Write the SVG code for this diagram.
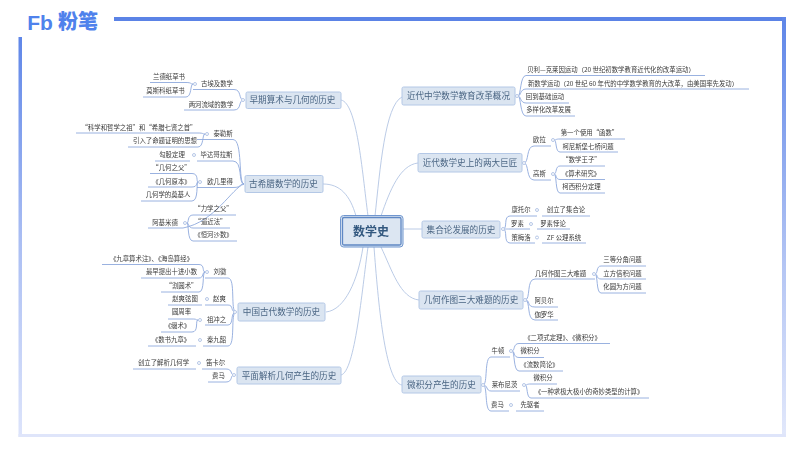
<svg xmlns="http://www.w3.org/2000/svg" width="800" height="450" viewBox="0 0 800 450">
<style>
text{font-family:"Noto Sans CJK SC","Liberation Sans",sans-serif;text-anchor:middle;fill:#3a3a3a;font-size:6.4px}
.m{font-size:8.6px;fill:#4a6583}
.c{font-size:12px;font-weight:700;fill:#33587f}
.box{fill:#dbe5f1;stroke:#b4c8e6;stroke-width:1}
.l{fill:none;stroke:#8fa9dc;stroke-width:.9}
.t{fill:none;stroke:#b3c5e3;stroke-width:.9}
</style>
<defs>
<linearGradient id="gl" x1="0" y1="0" x2="0" y2="1"><stop offset="0" stop-color="#5f86e8"/><stop offset=".5" stop-color="#a9bdf3"/><stop offset="1" stop-color="#dde4fb"/></linearGradient>
<linearGradient id="gr" x1="0" y1="0" x2="0" y2="1"><stop offset="0" stop-color="#5f86e8"/><stop offset=".6" stop-color="#b5c6f4"/><stop offset="1" stop-color="#e2e8fb"/></linearGradient>
<filter id="s" x="-2%" y="-2%" width="104%" height="104%"><feGaussianBlur stdDeviation=".3"/></filter>
</defs>
<rect width="800" height="450" fill="#fff"/>
<g id="frame">
<rect x="114" y="17" width="672" height="4" fill="#5b83e6"/>
<rect x="782" y="17" width="4" height="420" fill="url(#gr)"/>
<rect x="18.500" y="37" width="3.500" height="400" fill="url(#gl)"/>
<rect x="18.500" y="434" width="767.500" height="3" fill="#dfe5fa"/>
</g>
<g id="logo">
<text x="40" y="30" style="font-family:'Liberation Sans',sans-serif;font-size:21px;font-weight:700;fill:#4f82ec">Fb</text>
<text x="78" y="29" style="font-size:20px;font-weight:900;fill:#4f82ec">粉笔</text>
</g>
<g filter="url(#s)">
<g id="connectors">
<path class="t" d="M341 100C357 103 362 170 368 216M323 184C340 184 350 195 356 216M326 312C345 310 358 280 363 247M341 375C355 372 362 290 368 247M402 97C385 105 380 170 375 216M418 163C400 165 390 190 381 216M402 229H422M419 300C400 298 392 270 381 247M402 385C385 383 378 300 374 247"/>
<path class="l" d="M244 100C238 100 242 89.500 234 89.500H193M244 100C238 100 242 110 234 110H184"/>
<path class="l" d="M193 84C190 84 192 82.500 186 82.500H150M193 84C190 84 192 97 186 97H143"/>
<path class="l" d="M244 184C238 184 243 139.500 233 139.500H197M244 184C238 184 243 161 233 161H197M244 184C238 184 243 187.500 233 187.500H197M244 184C232 188 215 222 183 228H148"/>
<path class="l" d="M205 134C202 134 204 133 198 133H76M205 134C202 134 204 147 198 147H128"/>
<path class="l" d="M155 161H190"/>
<path class="l" d="M198 182C196 182 199 173.500 192 173.500H150M198 182C196 182 198 187 192 187H148M198 182C196 182 199 201 192 201H141"/>
<path class="l" d="M187 223C189 223 187 215 193 215H236M187 223C189 223 188 228 193 228H230M187 223C189 223 187 241 193 241H237"/>
<path class="l" d="M236 312C230 312 236 278 228 278H205M236 312C230 312 234 305 228 305H205M236 312C230 312 234 325 228 325H205M236 312C230 312 236 346 228 346H203"/>
<path class="l" d="M205 272C202 272 205 264.500 199 264.500H102M205 272C202 272 204 278 199 278H141M205 272C202 272 205 292 199 292H161"/>
<path class="l" d="M168 305H202"/>
<path class="l" d="M198 320C195 320 198 319 192 319H168M198 320C195 320 199 332 192 332H161"/>
<path class="l" d="M148 346H196"/>
<path class="l" d="M234 375C230 375 233 369 226 369H202M234 375C230 375 233 382 226 382H208"/>
<path class="l" d="M133 369H196"/>
<path class="l" d="M518 96C521 96 520 75.500 526 75.500H705M518 96C521 96 520 89 526 89H749M518 96C521 96 520 103 526 103H569M518 96C521 96 520 116 526 116H575"/>
<path class="l" d="M524 163C529 163 526 146 534 146H551M524 163C529 163 526 180 534 180H551"/>
<path class="l" d="M554 140C557 140 555 139 560 139H625M554 140C557 140 555 152 560 152H618"/>
<path class="l" d="M554 174C557 174 555 166 560 166H605M554 174C557 174 555 179.500 560 179.500H605M554 174C557 174 555 193 560 193H605"/>
<path class="l" d="M503 229C508 229 503 216 510 216H537M503 229C508 229 505 229 510 229H530M503 229C508 229 503 243 510 243H535"/>
<path class="l" d="M542 216H590M537 229H570M542 243H586"/>
<path class="l" d="M525 300C531 300 526 279 535 279H595M525 300C531 300 526 307 535 307H558M525 300C531 300 526 320 535 320H558"/>
<path class="l" d="M595 274C598 274 596 266 601 266H646M595 274C598 274 596 279 601 279H646M595 274C598 274 596 293 601 293H646"/>
<path class="l" d="M483 385C488 385 484 357 491 357H510M483 385C488 385 486 391 491 391H520M483 385C488 385 484 411 491 411H509"/>
<path class="l" d="M512 351C515 351 513 343.500 519 343.500H610M512 351C515 351 513 357.500 519 357.500H544M512 351C515 351 513 371 519 371H563"/>
<path class="l" d="M525 385C528 385 526 384 531 384H557M525 385C528 385 526 398 531 398H649"/>
<path class="l" d="M516 411H544"/>
<g fill="#fff" stroke="#b5c6e6" stroke-width="1">
<circle cx="243" cy="100" r="1.500"/><circle cx="195" cy="84" r="1.500"/><circle cx="207" cy="134" r="1.500"/><circle cx="194" cy="155" r="1.500"/><circle cx="200" cy="182" r="1.500"/><circle cx="185" cy="223" r="1.500"/><circle cx="207" cy="272" r="1.500"/><circle cx="207" cy="299" r="1.500"/><circle cx="200" cy="320" r="1.500"/><circle cx="200" cy="340" r="1.500"/><circle cx="199" cy="363" r="1.500"/><circle cx="235" cy="312" r="1.500"/><circle cx="234" cy="375" r="1.500"/><circle cx="517" cy="96" r="1.500"/><circle cx="524" cy="163" r="1.500"/><circle cx="553" cy="140" r="1.500"/><circle cx="553" cy="174" r="1.500"/><circle cx="503" cy="229" r="1.500"/><circle cx="537" cy="210" r="1.500"/><circle cx="531" cy="224" r="1.500"/><circle cx="537" cy="237.500" r="1.500"/><circle cx="525" cy="300" r="1.500"/><circle cx="594" cy="274" r="1.500"/><circle cx="483" cy="385" r="1.500"/><circle cx="511" cy="351" r="1.500"/><circle cx="524" cy="385" r="1.500"/><circle cx="511" cy="405" r="1.500"/>
</g>
</g>
<g id="center">
<rect x="340.500" y="215.500" width="62.500" height="31.500" rx="3" fill="#dce6f2" stroke="#6f96cf" stroke-width="1"/>
<rect x="342.500" y="217.500" width="58.500" height="27.500" rx="1.500" fill="#dce6f2" stroke="#5f88c4" stroke-width="1.300"/>
<text class="c" x="371" y="235.500">数学史</text>
</g>
<g id="n-early"><rect class="box" x="246" y="92" width="95" height="16.500" rx="1.500"/><text class="m" x="292.500" y="103">早期算术与几何的历史</text>
<text x="169" y="79.300">兰德纸草书</text><text x="165.500" y="93.300">莫斯科纸草书</text><text x="217" y="86.300">古埃及数学</text><text x="211" y="107.300">两河流域的数学</text></g>
<g id="n-greek"><rect class="box" x="245" y="175.500" width="78" height="17" rx="1.500"/><text class="m" x="283.500" y="187">古希腊数学的历史</text>
<text x="139" y="130.300">“科学和哲学之祖”和“希腊七贤之首”</text><text x="165" y="143.300">引入了命题证明的思想</text><text x="223" y="136.300">泰勒斯</text><text x="172" y="157.300">勾股定理</text><text x="216.500" y="157.300">毕达哥拉斯</text><text x="171.500" y="170.300">“几何之父”</text><text x="171.500" y="183.800">《几何原本》</text><text x="168" y="197.300">几何学的奠基人</text><text x="220" y="184.300">欧几里得</text><text x="165" y="225.300">阿基米德</text><text x="213.500" y="211.300">“力学之父”</text><text x="210.500" y="224.300">“逼近法”</text><text x="213.500" y="237.300">《恒河沙数》</text></g>
<g id="n-china"><rect class="box" x="238" y="303" width="87" height="18" rx="1.500"/><text class="m" x="281.500" y="315">中国古代数学的历史</text>
<text x="151.500" y="261.300">《九章算术注》、《海岛算经》</text><text x="171.500" y="274.300">最早提出十进小数</text><text x="181.500" y="288.300">“割圆术”</text><text x="220" y="274.300">刘徽</text><text x="185" y="301.300">赵爽弦图</text><text x="219.500" y="301.300">赵爽</text><text x="181.500" y="314.300">圆周率</text><text x="177.500" y="328.300">《缀术》</text><text x="216.500" y="322.300">祖冲之</text><text x="171" y="342.300">《数书九章》</text><text x="216.500" y="342.300">秦九韶</text></g>
<g id="n-plane"><rect class="box" x="237" y="367" width="104" height="17" rx="1.500"/><text class="m" x="289" y="379">平面解析几何产生的历史</text>
<text x="163.500" y="365.300">创立了解析几何学</text><text x="215.500" y="365.300">笛卡尔</text><text x="218.500" y="378.300">费马</text></g>
<g id="n-edu"><rect class="box" x="402" y="87" width="113" height="18" rx="1.500"/><text class="m" x="458.500" y="99">近代中学数学教育改革概况</text>
<text x="611" y="72.300">贝利—克莱因运动（20 世纪初数学教育近代化的改革运动）</text><text x="633" y="85.800">新数学运动（20 世纪 60 年代的中学数学教育的大改革，由美国率先发动）</text><text x="545" y="99.300">回到基础运动</text><text x="548.500" y="112.300">多样化改革发展</text></g>
<g id="n-giants"><rect class="box" x="418" y="153.500" width="104" height="18.500" rx="1.500"/><text class="m" x="470" y="166">近代数学史上的两大巨匠</text>
<text x="539.500" y="142.300">欧拉</text><text x="589.500" y="135.300">第一个使用“函数”</text><text x="588" y="148.800">柯尼斯堡七桥问题</text><text x="539.500" y="176.300">高斯</text><text x="581.500" y="162.300">“数学王子”</text><text x="581" y="176.300">《算术研究》</text><text x="581.500" y="189.300">柯西积分定理</text></g>
<g id="n-set"><rect class="box" x="422" y="221" width="78" height="17" rx="1.500"/><text class="m" x="461" y="232.500">集合论发展的历史</text>
<text x="521" y="212.300">康托尔</text><text x="566" y="212.300">创立了集合论</text><text x="517.500" y="226.300">罗素</text><text x="553" y="226.300">罗素悖论</text><text x="521" y="239.800">策梅洛</text><text x="564" y="239.800">ZF 公理系统</text></g>
<g id="n-three"><rect class="box" x="419" y="291" width="104" height="18" rx="1.500"/><text class="m" x="471" y="303">几何作图三大难题的历史</text>
<text x="560.500" y="275.800">几何作图三大难题</text><text x="622.500" y="262.300">三等分角问题</text><text x="622.500" y="275.800">立方倍积问题</text><text x="622.500" y="289.300">化圆为方问题</text><text x="544" y="303.300">阿贝尔</text><text x="544" y="316.800">伽罗华</text></g>
<g id="n-calc"><rect class="box" x="402" y="376" width="79" height="17" rx="1.500"/><text class="m" x="441.500" y="388">微积分产生的历史</text>
<text x="498" y="353.300">牛顿</text><text x="562.500" y="340.300">《二项式定理》、《微积分》</text><text x="530" y="353.300">微积分</text><text x="539.500" y="367.300">《流数简论》</text><text x="504.500" y="387.300">莱布尼茨</text><text x="543" y="380.300">微积分</text><text x="589" y="394.300">《一种求极大极小的奇妙类型的计算》</text><text x="497.500" y="407.300">费马</text><text x="530" y="407.300">先驱者</text></g>
</g>
</svg>
